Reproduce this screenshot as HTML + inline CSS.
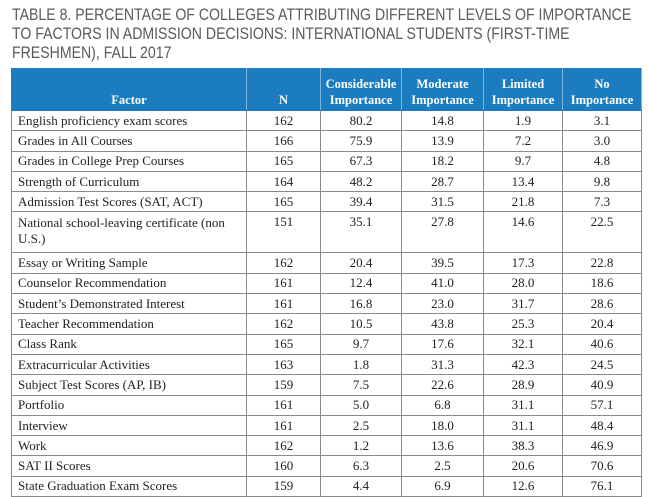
<!DOCTYPE html>
<html><head><meta charset="utf-8"><style>
body{margin:0;width:649px;height:493px;background:#fff;overflow:hidden;position:relative;}
.t{position:absolute;left:12px;font-family:"Liberation Sans",sans-serif;font-size:16.5px;color:#5a5a5a;white-space:nowrap;transform-origin:0 0;line-height:18px;}
table{position:absolute;left:11px;top:68px;border-collapse:collapse;table-layout:fixed;width:630px;font-family:"Liberation Serif",serif;font-size:13px;color:#222;}
td,th{border:1px solid #8a8a8a;padding:0;overflow:hidden;}
th{background:#1b7dc0;color:#fff;font-weight:bold;font-size:12.5px;line-height:16px;vertical-align:bottom;padding-bottom:2px;border-color:#1b7dc0;border-right-color:#7fb6dd;}
td{height:19.3px;text-align:center;line-height:14px;}
td:first-child{text-align:left;padding-left:6px;}
</style></head><body>
<div class="t" style="top:6px;transform:scaleX(0.855)">TABLE 8. PERCENTAGE OF COLLEGES ATTRIBUTING DIFFERENT LEVELS OF IMPORTANCE</div>
<div class="t" style="top:25px;transform:scaleX(0.855)">TO FACTORS IN ADMISSION DECISIONS: INTERNATIONAL STUDENTS (FIRST-TIME</div>
<div class="t" style="top:44px;transform:scaleX(0.855)">FRESHMEN), FALL 2017</div>
<table>
<colgroup><col style="width:235px"><col style="width:74px"><col style="width:81px"><col style="width:82px"><col style="width:79px"><col style="width:79px"></colgroup>
<tr style="height:42px"><th>Factor</th><th>N</th><th>Considerable Importance</th><th>Moderate Importance</th><th>Limited Importance</th><th>No Importance</th></tr>
<tr><td>English proficiency exam scores</td><td>162</td><td>80.2</td><td>14.8</td><td>1.9</td><td>3.1</td></tr>
<tr><td>Grades in All Courses</td><td>166</td><td>75.9</td><td>13.9</td><td>7.2</td><td>3.0</td></tr>
<tr><td>Grades in College Prep Courses</td><td>165</td><td>67.3</td><td>18.2</td><td>9.7</td><td>4.8</td></tr>
<tr><td>Strength of Curriculum</td><td>164</td><td>48.2</td><td>28.7</td><td>13.4</td><td>9.8</td></tr>
<tr><td>Admission Test Scores (SAT, ACT)</td><td>165</td><td>39.4</td><td>31.5</td><td>21.8</td><td>7.3</td></tr>
<tr><td style="height:37px;vertical-align:top;padding-top:3px;line-height:16px">National school-leaving certificate (non<br>U.S.)</td><td style="vertical-align:top;padding-top:3px">151</td><td style="vertical-align:top;padding-top:3px">35.1</td><td style="vertical-align:top;padding-top:3px">27.8</td><td style="vertical-align:top;padding-top:3px">14.6</td><td style="vertical-align:top;padding-top:3px">22.5</td></tr>
<tr><td>Essay or Writing Sample</td><td>162</td><td>20.4</td><td>39.5</td><td>17.3</td><td>22.8</td></tr>
<tr><td>Counselor Recommendation</td><td>161</td><td>12.4</td><td>41.0</td><td>28.0</td><td>18.6</td></tr>
<tr><td>Student’s Demonstrated Interest</td><td>161</td><td>16.8</td><td>23.0</td><td>31.7</td><td>28.6</td></tr>
<tr><td>Teacher Recommendation</td><td>162</td><td>10.5</td><td>43.8</td><td>25.3</td><td>20.4</td></tr>
<tr><td>Class Rank</td><td>165</td><td>9.7</td><td>17.6</td><td>32.1</td><td>40.6</td></tr>
<tr><td>Extracurricular Activities</td><td>163</td><td>1.8</td><td>31.3</td><td>42.3</td><td>24.5</td></tr>
<tr><td>Subject Test Scores (AP, IB)</td><td>159</td><td>7.5</td><td>22.6</td><td>28.9</td><td>40.9</td></tr>
<tr><td>Portfolio</td><td>161</td><td>5.0</td><td>6.8</td><td>31.1</td><td>57.1</td></tr>
<tr><td>Interview</td><td>161</td><td>2.5</td><td>18.0</td><td>31.1</td><td>48.4</td></tr>
<tr><td>Work</td><td>162</td><td>1.2</td><td>13.6</td><td>38.3</td><td>46.9</td></tr>
<tr><td>SAT II Scores</td><td>160</td><td>6.3</td><td>2.5</td><td>20.6</td><td>70.6</td></tr>
<tr><td>State Graduation Exam Scores</td><td>159</td><td>4.4</td><td>6.9</td><td>12.6</td><td>76.1</td></tr>
</table>
</body></html>
